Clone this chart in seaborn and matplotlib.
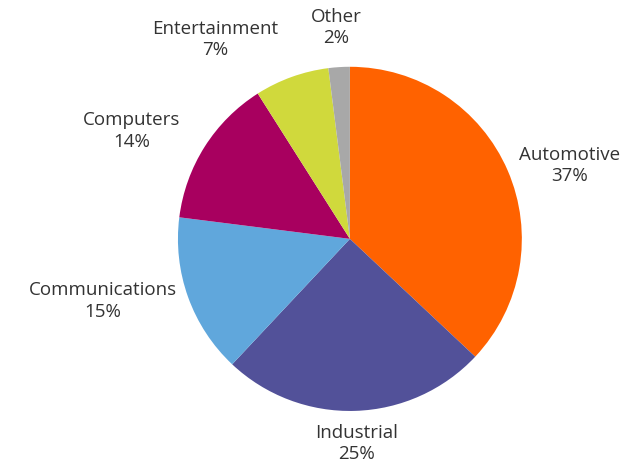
import numpy as np
import matplotlib
matplotlib.use("Agg")
import matplotlib.pyplot as plt
import seaborn as sns

# Data
categories = ["Automotive", "Industrial", "Communications", "Computers", "Entertainment", "Other"]
shares = [37, 25, 15, 14, 7, 2]
colors = ["#FF6200", "#525199", "#60A7DC", "#A8005F", "#D0D93C", "#A8A8A8"]

# Label distance from centre (in pie radii), per slice
label_dist = [1.07, 1.19, 1.07, 1.17, 1.23, 1.23]

sns.set_theme(style="white")
plt.rcParams["font.family"] = ["Open Sans", "DejaVu Sans"]

fig = plt.figure(figsize=(6.31, 4.67), dpi=100)
ax = fig.add_axes([0.282, 0.120, 0.545, 0.737])

wedges, _ = ax.pie(shares, colors=colors, startangle=90, counterclock=False,
                   radius=1, wedgeprops=dict(linewidth=0))
ax.set_xlim(-1, 1)
ax.set_ylim(-1, 1)
ax.set_aspect("auto")

for w, name, val, d in zip(wedges, categories, shares, label_dist):
    ang = np.deg2rad((w.theta1 + w.theta2) / 2)
    x, y = d * np.cos(ang), d * np.sin(ang)
    if abs(np.cos(ang)) < 0.2:
        ha = "center"
    elif x > 0:
        ha = "left"
    else:
        ha = "right"
    ax.text(x, y, f"{name}\n{val}%", ha=ha, va="center", multialignment="center",
            fontsize=13.5, color="#333333", clip_on=False, linespacing=1.25)

ax.axis("off")
fig.savefig("out.png", dpi=100)
